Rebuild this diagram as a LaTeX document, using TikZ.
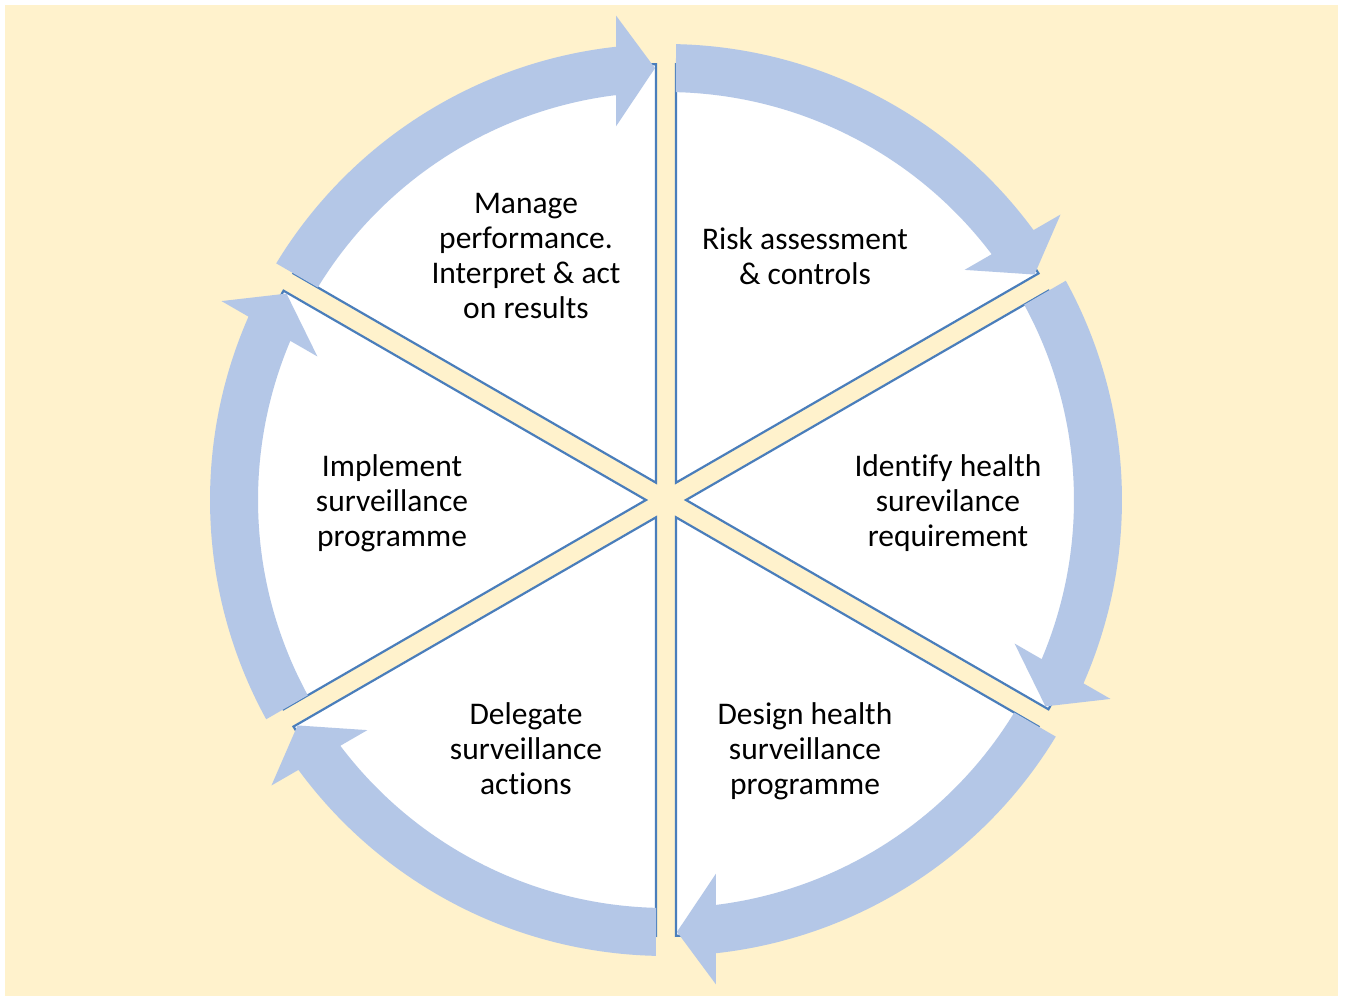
\documentclass[tikz,border=0pt]{standalone}
\usepackage{fontspec}
\setmainfont{Carlito}[Ligatures=NoCommon]
\usetikzlibrary{positioning}
\definecolor{cream}{HTML}{FFF2CC}
\definecolor{ringblue}{HTML}{B4C7E7}
\definecolor{edgeblue}{HTML}{4A7EBB}

\begin{document}
\begin{tikzpicture}[
    x=1pt, y=1pt,
    sector/.style={fill=white, draw=edgeblue, line width=2.2pt},
    ringarrow/.style={fill=ringblue, draw=none},
    stage/.style={align=center, font=\fontsize{31.5}{35}\selectfont, text=black}
]
    \useasboundingbox (-666,500) rectangle (679,-496);
    \fill[cream] (-661,495) rectangle (672,-496);

    % white wedges, one per step
    \foreach \s in {90,30,-30,-90,-150,150} {
        \pgfmathsetmacro{\e}{\s-60}
        \pgfmathsetmacro{\m}{\s-30}
        \pgfmathsetmacro{\a}{\s-1.31}
        \pgfmathsetmacro{\b}{\e+1.31}
        \draw[sector] (\m:20) -- (\a:436) arc[start angle=\a, end angle=\b, radius=436] -- cycle;
    }

    % curved arrows going round clockwise
    \foreach \s in {90,30,-30,-90,-150,150} {
        \pgfmathsetmacro{\e}{\s-60}
        \pgfmathsetmacro{\ta}{\s-1.26}
        \pgfmathsetmacro{\tb}{\s-1.40}
        \pgfmathsetmacro{\ha}{\e+6.29}
        \pgfmathsetmacro{\hb}{\e+7.04}
        \fill[ringarrow] (\ta:456) arc[start angle=\ta, end angle=\ha, radius=456]
            -- (\e+5.89:487) -- (\e+1.46:432) -- (\e+7.62:377) -- (\hb:408)
            arc[start angle=\hb, end angle=\tb, radius=408] -- cycle;
    }

    \node[stage] (manage) at (-140,244) {Manage\\performance.\\Interpret \& act\\on results};
    \node[stage] (risk) at (139,244) {Risk assessment\\\& controls};
    \node[stage] (identify) at (282,-3) {Identify health\\surevilance\\requirement};
    \node[stage] (design) at (139,-251) {Design health\\surveillance\\programme};
    \node[stage] (delegate) at (-140,-249) {Delegate\\surveillance\\actions};
    \node[stage] (implement) at (-274,-3) {Implement\\surveillance\\programme};
\end{tikzpicture}
\end{document}
